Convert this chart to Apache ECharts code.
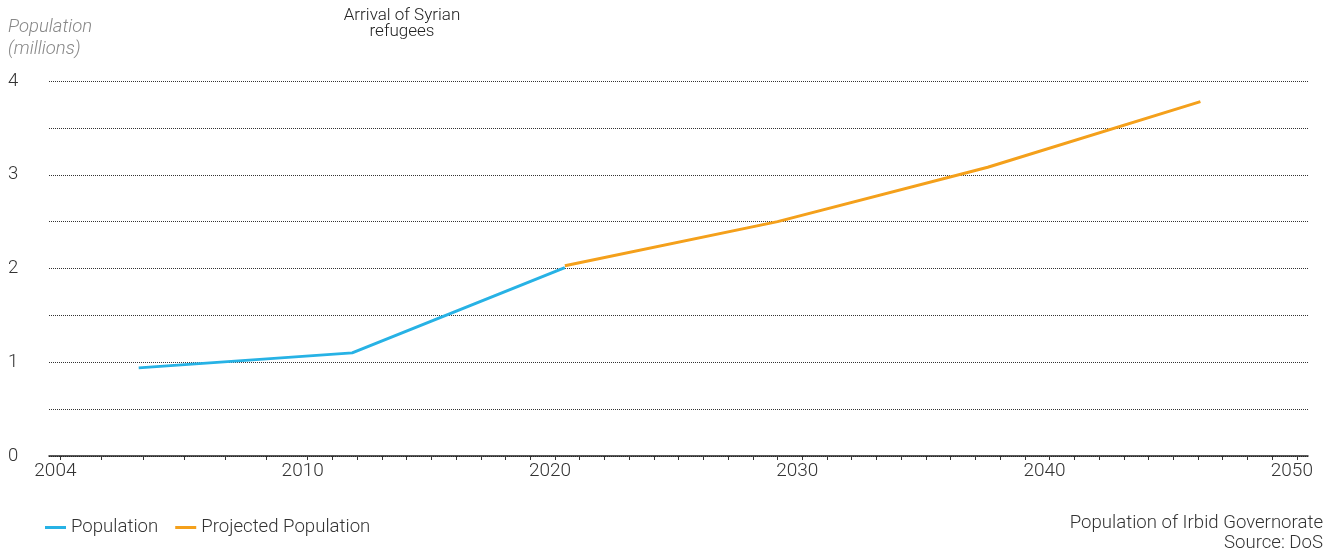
<!DOCTYPE html>
<html>
<head>
<meta charset="utf-8">
<script src="https://cdn.jsdelivr.net/npm/echarts@6/dist/echarts.min.js"></script>
<style>
html,body{margin:0;padding:0;background:#fff;}
#chart{width:1337px;height:553px;}
</style>
</head>
<body>
<div id="chart"></div>
<script>
// ---- data ----
const popYears = [2005.9, 2011.8, 2020.4];
const popValues = [0.94, 1.10, 2.01];
const projYears = [2020.4, 2029.0, 2037.5, 2046.1];
const projValues = [2.03, 2.50, 3.08, 3.78];
const tickYears = [2004, 2010, 2020, 2030, 2040, 2050];
const yTicks = [0, 1, 2, 3, 4];
const seriesNames = ['Population', 'Projected Population'];
const annotation = 'Arrival of Syrian\nrefugees';
const yTitle = 'Population\n(millions)';
const caption = 'Population of Irbid Governorate\nSource: DoS';

// ---- axis scale: 2004-2010 stretched to a decade width, linear after 2010 ----
const BREAK = 2010, FIRST = 2004, STRETCH = 10 / (BREAK - FIRST);
function pos(y) { return y >= BREAK ? y : BREAK - (BREAK - y) * STRETCH; }
function unpos(p) { return p >= BREAK ? p : BREAK - (BREAK - p) / STRETCH; }

const allYears = [];
for (let y = FIRST; y <= 2050; y++) allYears.push(pos(y));

const FONT = 'Roboto, "Noto Sans", sans-serif';
const chart = echarts.init(document.getElementById('chart'), null, {renderer: 'canvas'});
chart.setOption({
  animation: false,
  textStyle: {fontFamily: FONT},
  grid: {left: 49, right: 29, top: 81, bottom: 97, containLabel: false},
  xAxis: {
    type: 'value',
    min: pos(FIRST) - 0.46,
    max: 2050.45,
    axisLine: {show: true, lineStyle: {color: '#222', width: 1.5}},
    axisTick: {show: true, length: 4, lineStyle: {color: '#333', width: 1}, customValues: allYears},
    axisLabel: {
      show: true, customValues: tickYears.map(pos), margin: 6,
      color: '#333', fontSize: 19, fontWeight: 300, fontFamily: FONT, padding: [0, 10, 0, 0],
      formatter: v => String(Math.round(unpos(v)))
    },
    splitLine: {show: false}
  },
  yAxis: {
    type: 'value', min: 0, max: 4, interval: 0.5,
    axisLine: {show: false}, axisTick: {show: false},
    axisLabel: {
      color: '#333', fontSize: 18.5, fontWeight: 300, fontFamily: FONT, align: 'left', margin: 41,
      formatter: v => (yTicks.indexOf(v) >= 0 ? String(v) : '')
    },
    splitLine: {show: true, lineStyle: {color: '#333', width: 1, type: [1, 1]}}
  },
  legend: {
    left: 40, top: 513, itemWidth: 21, itemHeight: 3, itemGap: 17, icon: 'rect',
    textStyle: {color: '#333', fontSize: 18.6, fontWeight: 300, fontFamily: FONT},
    data: seriesNames
  },
  graphic: [
    {type: 'text', x: 8, y: 16, style: {text: yTitle, fill: '#888', font: 'italic 300 18.5px ' + FONT, lineHeight: 22}},
    {type: 'text', x: 402, y: 8, style: {text: annotation, fill: '#222', font: '300 17px ' + FONT, textAlign: 'center', lineHeight: 16}},
    {type: 'text', x: 1323, y: 513, style: {text: caption, fill: '#333', font: '300 18.6px ' + FONT, textAlign: 'right', lineHeight: 20}}
  ],
  series: [
    {
      name: seriesNames[0], type: 'line', showSymbol: false, symbol: 'none',
      color: '#27b2e5', lineStyle: {width: 3, color: '#27b2e5'},
      data: popYears.map((y, i) => [pos(y), popValues[i]])
    },
    {
      name: seriesNames[1], type: 'line', showSymbol: false, symbol: 'none',
      color: '#f4a01b', lineStyle: {width: 3, color: '#f4a01b'},
      data: projYears.map((y, i) => [pos(y), projValues[i]])
    }
  ]
});
</script>
</body>
</html>
